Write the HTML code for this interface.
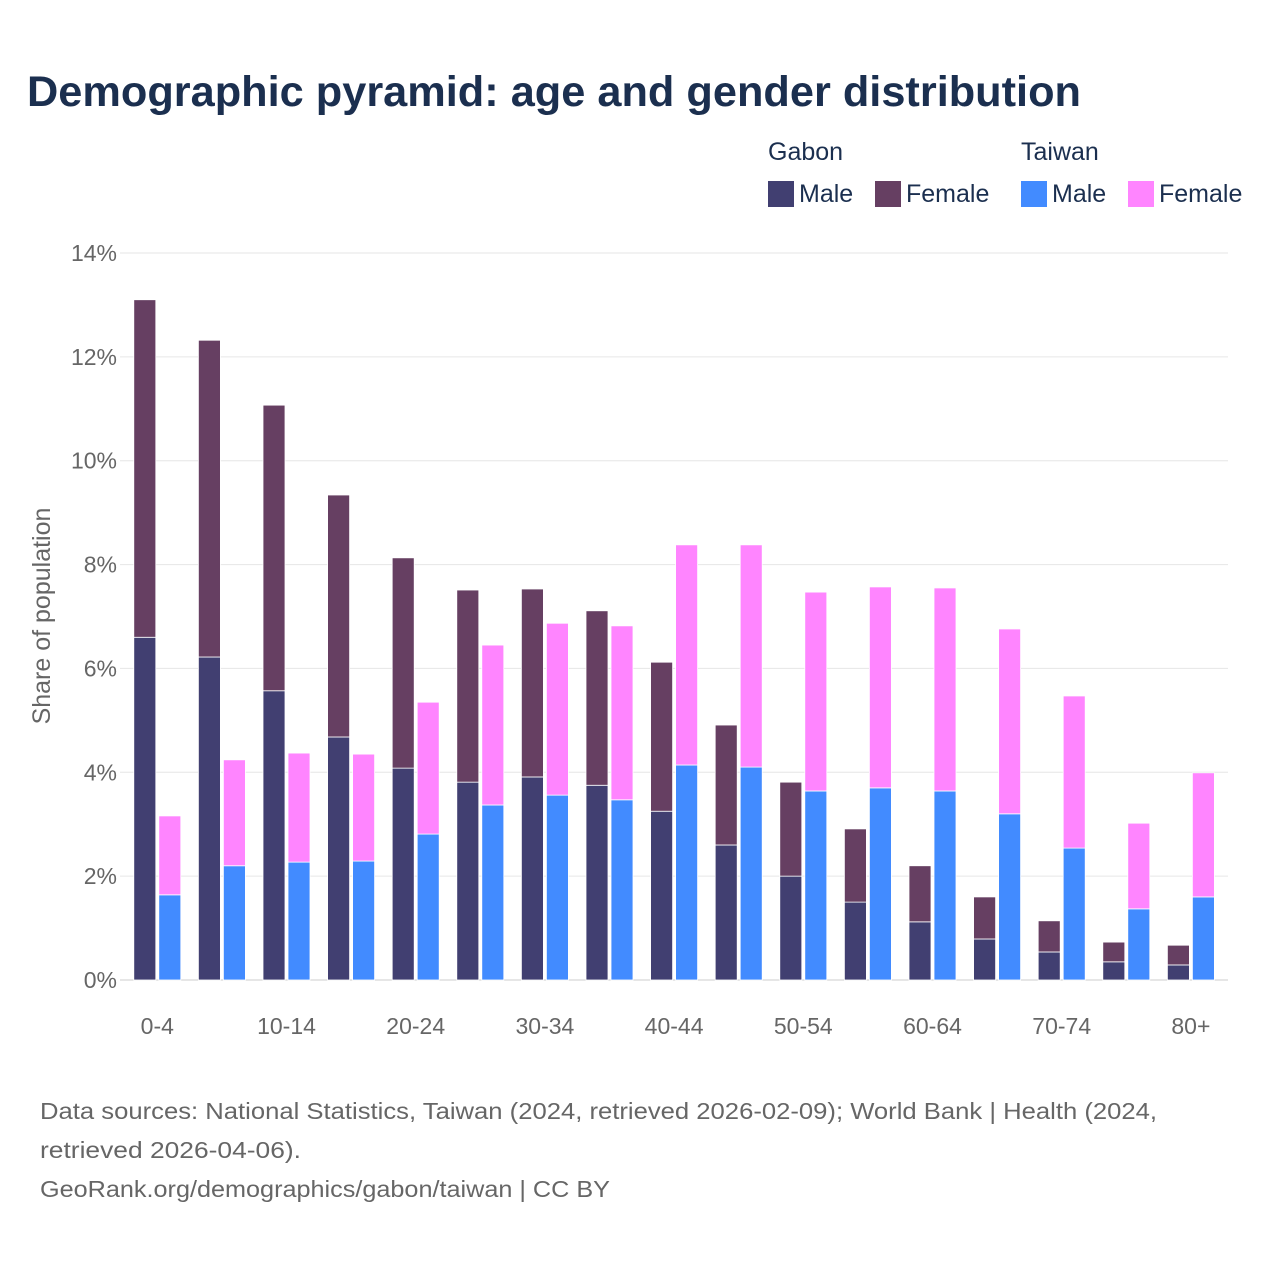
<!DOCTYPE html>
<html><head><meta charset="utf-8">
<style>
body{margin:0;background:#fff;font-family:"Liberation Sans",sans-serif;}
#wrap{position:relative;width:1280px;height:1280px;overflow:hidden;}
</style></head>
<body><div id="wrap">
<svg id="chart" width="1280" height="1280" xmlns="http://www.w3.org/2000/svg">
<text x="27" y="106" font-size="43" font-weight="bold" fill="#1b2f4f" textLength="1054" lengthAdjust="spacingAndGlyphs">Demographic pyramid: age and gender distribution</text>
<g font-size="25" fill="#1b2f4f">
<text x="768" y="160">Gabon</text>
<text x="1021" y="160">Taiwan</text>
<rect x="768" y="181" width="26" height="26" fill="#413f71"/>
<text x="799" y="202">Male</text>
<rect x="875" y="181" width="26" height="26" fill="#663f62"/>
<text x="906" y="202">Female</text>
<rect x="1021" y="181" width="26" height="26" fill="#428bff"/>
<text x="1052" y="202">Male</text>
<rect x="1128" y="181" width="26" height="26" fill="#ff85ff"/>
<text x="1159" y="202">Female</text>
</g>
<text transform="translate(50,616) rotate(-90)" text-anchor="middle" font-size="25" fill="#666">Share of population</text>
<g id="grid"></g><g id="bars"></g><g id="xlabels"></g>
<g font-size="23" fill="#666">
<text x="40" y="1119" textLength="1117" lengthAdjust="spacingAndGlyphs">Data sources: National Statistics, Taiwan (2024, retrieved 2026-02-09); World Bank | Health (2024,</text>
<text x="40" y="1158" textLength="261" lengthAdjust="spacingAndGlyphs">retrieved 2026-04-06).</text>
<text x="40" y="1197" textLength="570" lengthAdjust="spacingAndGlyphs">GeoRank.org/demographics/gabon/taiwan | CC BY</text>
</g>
</svg></div>
<script>
const categories=["0-4","5-9","10-14","15-19","20-24","25-29","30-34","35-39","40-44","45-49","50-54","55-59","60-64","65-69","70-74","75-79","80+"];
const gabonMale=[6.6,6.22,5.57,4.68,4.08,3.81,3.91,3.75,3.25,2.6,2.0,1.5,1.12,0.79,0.54,0.35,0.29];
const gabonFemale=[6.5,6.1,5.5,4.66,4.05,3.7,3.62,3.36,2.87,2.31,1.81,1.41,1.08,0.81,0.6,0.38,0.38];
const taiwanMale=[1.64,2.2,2.27,2.29,2.81,3.37,3.56,3.47,4.14,4.1,3.64,3.7,3.64,3.2,2.54,1.37,1.6];
const taiwanFemale=[1.52,2.04,2.1,2.06,2.54,3.08,3.31,3.35,4.24,4.28,3.83,3.87,3.91,3.56,2.93,1.65,2.39];
const yTicks=[0,2,4,6,8,10,12,14];
const NS="http://www.w3.org/2000/svg";
const y0=980,yTop=253,yMax=14;
function y(v){return y0-(v/yMax)*(y0-yTop);}
const left=125,step=64.6,bw=22,gap=3;
function xc(i){return left+step*(i+0.5);}
function mk(tag,attrs,parent){const e=document.createElementNS(NS,tag);for(const k in attrs)e.setAttribute(k,attrs[k]);parent.appendChild(e);return e;}
const grid=document.getElementById('grid'),bars=document.getElementById('bars'),xl=document.getElementById('xlabels');
yTicks.forEach(t=>{
 const l=mk('line',{x1:120,x2:1228,y1:y(t),y2:y(t),stroke:t===0?'#ccc':'#e6e6e6','stroke-width':1},grid);
 
 
 const tx=mk('text',{x:117,y:y(t)+8,'text-anchor':'end','font-size':23,fill:'#666'},grid);
 tx.textContent=t+'%';
 
 
});
function bar(x,v0,v1,color,name){
 const r=mk('rect',{x:x,y:y(v1),width:bw,height:y(v0)-y(v1),fill:color,stroke:'#fff','stroke-width':0.8},bars);
 
 
}
categories.forEach((c,i)=>{
 const cx=xc(i);
 const gx=cx-gap/2-bw,tx=cx+gap/2;
 bar(gx,0,gabonMale[i],'#413f71','bar-gabon-male-'+c);
 bar(gx,gabonMale[i],gabonMale[i]+gabonFemale[i],'#663f62','bar-gabon-female-'+c);
 bar(tx,0,taiwanMale[i],'#428bff','bar-taiwan-male-'+c);
 bar(tx,taiwanMale[i],taiwanMale[i]+taiwanFemale[i],'#ff85ff','bar-taiwan-female-'+c);
 if(i%2===0){
  const t=mk('text',{x:cx,y:1034,'text-anchor':'middle','font-size':23,fill:'#666'},xl);
  t.textContent=c;
  
  
 }
});
</script>
</body></html>
